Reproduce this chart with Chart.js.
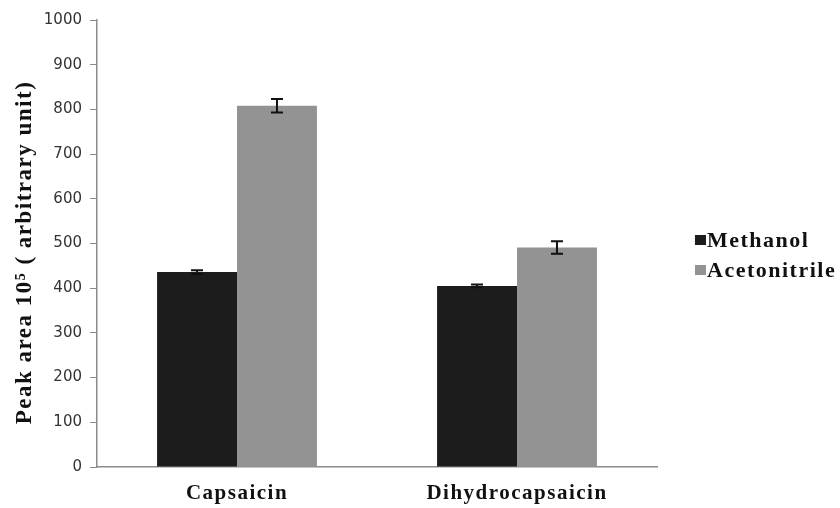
<!DOCTYPE html>
<html>
<head>
<meta charset="utf-8">
<script src="https://cdn.jsdelivr.net/npm/chart.js@4.4.1/dist/chart.umd.min.js"></script>
<style>
  html, body { margin: 0; padding: 0; background: #fff; }
  #wrap { width: 840px; height: 508px; }
</style>
</head>
<body>
<div id="wrap"><canvas id="peakChart"></canvas></div>
<script>
// data
const categories = ['Capsaicin', 'Dihydrocapsaicin'];
const seriesNames = ['Methanol', 'Acetonitrile'];
const methanol = [436, 405];
const acetonitrile = [808, 491];
const methanolErr = [4, 3];
const acetonitrileErr = [15, 14];
const yTicks = [0, 100, 200, 300, 400, 500, 600, 700, 800, 900, 1000];

const serif = '"Liberation Serif", "Times New Roman", serif';

// wraps a scale's text drawing so it gets the wide letter spacing of the original
const spacedText = {
    id: 'spacedText',
    beforeDraw(chart) {
        const ctx = chart.ctx;
        const x = chart.scales.x;
        const y = chart.scales.y;
        if (!x._spaced) {
            x.drawLabels = function (area) {
                ctx.save();
                ctx.letterSpacing = '1.5px';
                Object.getPrototypeOf(this).drawLabels.call(this, area);
                ctx.restore();
            };
            x._spaced = true;
        }
        if (!y._spaced) {
            y.drawTitle = function () {
                ctx.save();
                ctx.letterSpacing = '1.5px';
                ctx.translate(0, 9);
                Object.getPrototypeOf(this).drawTitle.call(this);
                ctx.restore();
            };
            y._spaced = true;
        }
    }
};

// error bars
const errorBars = {
    id: 'errorBars',
    afterDatasetsDraw(chart) {
        const ctx = chart.ctx;
        const yScale = chart.scales.y;
        const errs = [methanolErr, acetonitrileErr];
        chart.data.datasets.forEach((ds, di) => {
            const meta = chart.getDatasetMeta(di);
            meta.data.forEach((bar, i) => {
                const v = ds.data[i];
                const top = yScale.getPixelForValue(v + errs[di][i]);
                const bot = yScale.getPixelForValue(v - errs[di][i]);
                ctx.save();
                ctx.strokeStyle = '#111';
                ctx.lineWidth = 2;
                ctx.beginPath();
                ctx.moveTo(bar.x, top);
                ctx.lineTo(bar.x, bot);
                ctx.moveTo(bar.x - 6, top);
                ctx.lineTo(bar.x + 6, top);
                ctx.moveTo(bar.x - 6, bot);
                ctx.lineTo(bar.x + 6, bot);
                ctx.stroke();
                ctx.restore();
            });
        });
    }
};

// legend on the right, square marker + spaced bold serif text
const sideLegend = {
    id: 'sideLegend',
    afterDraw(chart) {
        const ctx = chart.ctx;
        const left = chart.chartArea.right + 38;
        const rows = [240, 270];
        ctx.save();
        chart.data.datasets.forEach((ds, i) => {
            ctx.fillStyle = ds.backgroundColor;
            ctx.fillRect(left, rows[i] - 5, 11, 10);
            ctx.fillStyle = '#111';
            ctx.font = 'bold 22px ' + serif;
            ctx.letterSpacing = '1.5px';
            ctx.textBaseline = 'middle';
            ctx.textAlign = 'left';
            ctx.fillText(ds.label, left + 12, rows[i] + 1);
        });
        ctx.restore();
    }
};

const ctx = document.getElementById('peakChart').getContext('2d');
const peakChart = new Chart(ctx, {
    type: 'bar',
    data: {
        labels: categories,
        datasets: [{
            label: seriesNames[0],
            data: methanol,
            backgroundColor: '#1c1c1c'
        }, {
            label: seriesNames[1],
            data: acetonitrile,
            backgroundColor: '#939393'
        }]
    },
    options: {
        responsive: true,
        maintainAspectRatio: false,
        animation: false,
        layout: { padding: { top: 20, right: 183, bottom: 0, left: 0 } },
        datasets: {
            bar: { categoryPercentage: 0.571, barPercentage: 1.0 }
        },
        plugins: {
            legend: { display: false },
            tooltip: { enabled: false }
        },
        scales: {
            x: {
                grid: { display: false, drawTicks: false },
                border: { display: true, color: '#8c8c8c', width: 1.5 },
                ticks: {
                    padding: 14,
                    color: '#111',
                    font: { family: serif, size: 21, weight: 'bold' }
                },
                afterFit(scale) { scale.height = 41; }
            },
            y: {
                min: 0,
                max: 1000,
                afterBuildTicks(scale) {
                    scale.ticks = yTicks.map(v => ({ value: v }));
                },
                grid: {
                    drawOnChartArea: false,
                    drawTicks: true,
                    tickLength: 7,
                    color: '#8c8c8c'
                },
                border: { display: true, color: '#8c8c8c', width: 1.5 },
                ticks: {
                    padding: 8,
                    color: '#333',
                    font: { family: '"DejaVu Sans", sans-serif', size: 15 },
                    callback: v => String(v)
                },
                title: {
                    display: true,
                    text: 'Peak area 10\u2075 ( arbitrary unit)',
                    color: '#111',
                    padding: { top: 11, bottom: 0 },
                    font: { family: serif, size: 23, weight: 'bold' }
                },
                afterFit(scale) { scale.width = 97; }
            }
        }
    },
    plugins: [spacedText, errorBars, sideLegend]
});
</script>
</body>
</html>
